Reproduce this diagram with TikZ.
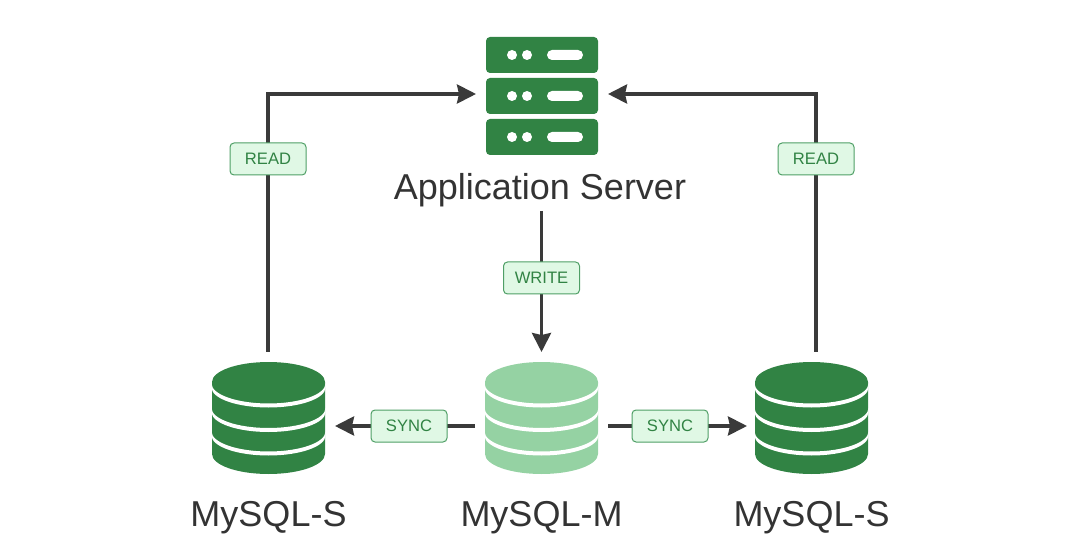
\documentclass[tikz,border=0pt]{standalone}
\usepackage{fontspec}
\setmainfont{Liberation Sans}
\usetikzlibrary{arrows.meta}
\usetikzlibrary{backgrounds}
\definecolor{dkgreen}{HTML}{318344}
\definecolor{ltgreen}{HTML}{95D2A3}
\definecolor{tagfill}{HTML}{E0F8E5}
\definecolor{tagline}{HTML}{4F9F66}
\definecolor{wire}{HTML}{3A3A3A}
\tikzset{
  wired/.style={draw=wire,line width=1.75pt,-{Stealth[length=9.5pt,width=9.5pt,inset=1pt]}},
  tag/.style={draw=tagline,fill=tagfill,line width=0.5pt,rounded corners=2pt,minimum width=38pt,minimum height=16pt,inner sep=0pt,text=dkgreen,font=\fontsize{8.3}{8.3}\selectfont},
  icon/.style={minimum width=56.5pt,minimum height=56pt,inner sep=0pt,outer sep=5pt},
  title/.style={text=black!80,inner sep=0pt,font=\fontsize{18}{18}\selectfont},
  pics/dbstack/.style={code={
    \fill[#1] (-56.5,36) arc[start angle=180,end angle=0,x radius=56.5,y radius=20]
      -- (56.5,-36) arc[start angle=0,end angle=-180,x radius=56.5,y radius=20] -- cycle;
    \foreach \y in {32.5,8,-15.5}
      \fill[white] (-57,\y+2) arc[start angle=180,end angle=360,x radius=57,y radius=20]
        -- (57,\y-2) arc[start angle=0,end angle=-180,x radius=57,y radius=20] -- cycle;
  }},
  pics/srvrow/.style={code={
    \fill[dkgreen,rounded corners=2pt] (-56,-18) rectangle (56,18);
    \fill[white] (-30,0) circle (5) (-15,0) circle (5);
    \fill[white,rounded corners=2.5pt] (5,-5) rectangle (41,5);
  }}
}
\begin{document}
\begin{tikzpicture}[x=0.5pt,y=0.5pt]
  \useasboundingbox (0,0) rectangle (1080,557);
  % server
  \node[minimum width=56pt,minimum height=59pt,inner sep=0pt,outer sep=5pt] (srv) at (542,463) {};
  \pic at (542,502) {srvrow};
  \pic at (542,461) {srvrow};
  \pic at (542,420) {srvrow};
  \node[title] (srvname) at (540,367) {Application Server};
  % databases
  \node[icon] (dbs1) at (268.5,139) {};
  \node[icon] (dbm) at (541.5,139) {};
  \node[icon,outer sep=4pt] (dbs2) at (811.5,139) {};
  \pic at (dbs1) {dbstack=dkgreen};
  \pic at (dbm) {dbstack=ltgreen};
  \pic at (dbs2) {dbstack=dkgreen};
  \node[title] (dbs1name) at (268.5,39) {MySQL-S};
  \node[title] (dbmname) at (541.5,39) {MySQL-M};
  \node[title] (dbs2name) at (811.5,39) {MySQL-S};
  % tags
  \node[tag] (read1) at (268,398) {READ};
  \node[tag] (read2) at (816,398) {READ};
  \node[tag] (write) at (541.5,279) {WRITE};
  \node[tag] (sync1) at (409,131) {SYNC};
  \node[tag] (sync2) at (670,131) {SYNC};
  % connectors
  \coordinate (rd1) at (268,205);
  \coordinate (rd2) at (816,205);
  \coordinate (wr) at (541.5,346);
  \begin{scope}[on background layer]
    \draw[wired] (rd1) |- (srv.west);
    \draw[wired] (rd2) |- (srv.east);
    \draw[wired] (wr) -- (dbm.north);
    \draw[wired] (sync1 -| dbm.west) -- (sync1 -| dbs1.east);
    \draw[wired] (sync2 -| dbm.east) -- (sync2 -| dbs2.west);
  \end{scope}
\end{tikzpicture}
\end{document}
